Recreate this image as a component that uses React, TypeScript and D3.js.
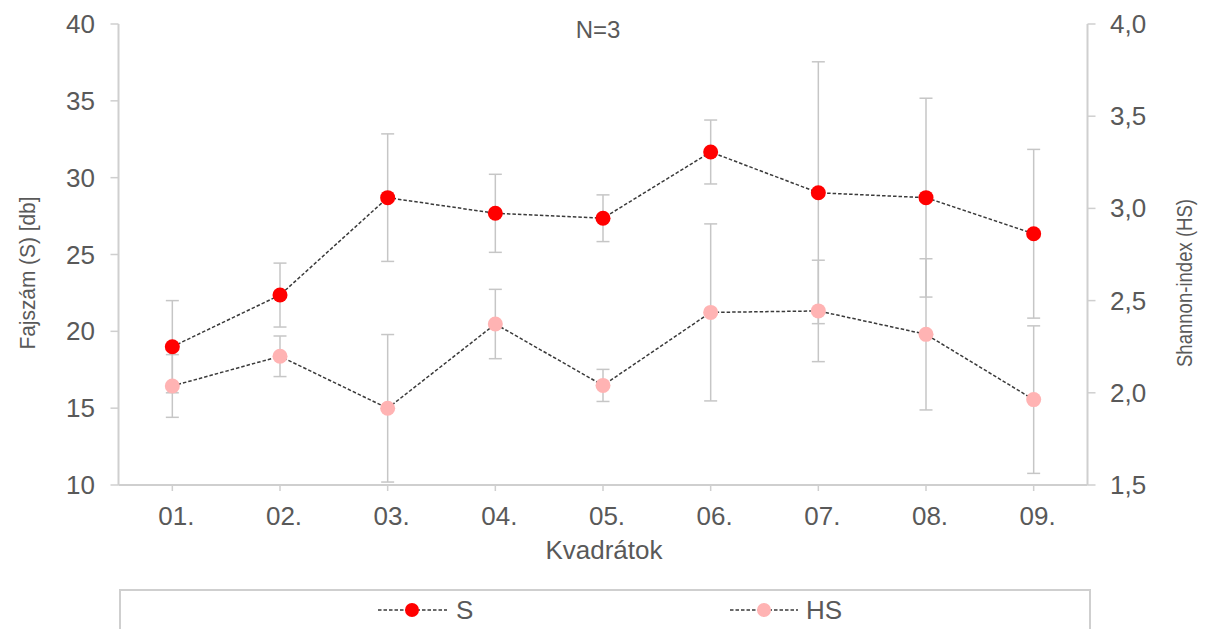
import React from "react";
import * as d3 from "d3";

const categories = ["01.", "02.", "03.", "04.", "05.", "06.", "07.", "08.", "09."];
const sValues = [19.0, 22.36, 28.7, 27.68, 27.36, 31.67, 29.02, 28.7, 26.35];
const sErrors = [3.0, 2.08, 4.15, 2.54, 1.52, 2.08, 8.52, 6.47, 5.49];
const hsValues = [2.037, 2.198, 1.916, 2.373, 2.04, 2.436, 2.444, 2.317, 1.963];
const hsErrors = [0.17, 0.11, 0.4, 0.188, 0.087, 0.48, 0.275, 0.41, 0.4];
const leftTicks = [10, 15, 20, 25, 30, 35, 40];
const rightTicks = [1.5, 2.0, 2.5, 3.0, 3.5, 4.0];

const W = 1207;
const H = 629;
const plot = { left: 118.5, right: 1087.5, top: 24, bottom: 485 };
const axisColor = "#cfcfcf";
const textColor = "#595959";
const errColor = "#c6c6c6";
const lineColor = "#3a3a3a";
const sColor = "#ff0000";
const hsColor = "#ffb3b3";
const font = "'Liberation Sans', Arial, sans-serif";

export default function App() {
  const x = d3.scaleBand<string>().domain(categories).range([plot.left, plot.right]);
  const cx = (c: string) => (x(c) as number) + x.bandwidth() / 2;
  const yL = d3.scaleLinear().domain([10, 40]).range([plot.bottom, plot.top]);
  const yR = d3.scaleLinear().domain([1.5, 4.0]).range([plot.bottom, plot.top]);

  const sLine = d3
    .line<number>()
    .x((_, i) => cx(categories[i]))
    .y((d) => yL(d))(sValues) as string;
  const hsLine = d3
    .line<number>()
    .x((_, i) => cx(categories[i]))
    .y((d) => yR(d))(hsValues) as string;

  const fmtR = (v: number) => d3.format(".1f")(v).replace(".", ",");
  const capHalf = 6.5;

  const errBars = (vals: number[], errs: number[], y: d3.ScaleLinear<number, number>, key: string) =>
    vals.map((v, i) => {
      const xc = cx(categories[i]);
      const y1 = y(v + errs[i]);
      const y2 = y(v - errs[i]);
      return (
        <g key={key + i} stroke={errColor} strokeWidth={1.5}>
          <line x1={xc} x2={xc} y1={y1} y2={y2} />
          <line x1={xc - capHalf} x2={xc + capHalf} y1={y1} y2={y1} />
          <line x1={xc - capHalf} x2={xc + capHalf} y1={y2} y2={y2} />
        </g>
      );
    });

  return (
    <svg
      width={W}
      height={H}
      style={{ position: "absolute", left: 0, top: 0, background: "#fff" }}
      fontFamily={font}
    >
      <rect width={W} height={H} fill="#fff" />
      {/* title */}
      <text x={598} y={38} textAnchor="middle" fontSize={24} fill={textColor}>
        N=3
      </text>

      {/* left axis */}
      <line x1={plot.left} x2={plot.left} y1={plot.top} y2={plot.bottom} stroke={axisColor} strokeWidth={2} />
      {leftTicks.map((t) => (
        <g key={"l" + t}>
          <line x1={plot.left - 8} x2={plot.left} y1={yL(t)} y2={yL(t)} stroke={axisColor} strokeWidth={1.5} />
          <text x={95} y={yL(t) + 9} textAnchor="end" fontSize={26} fill={textColor}>
            {t}
          </text>
        </g>
      ))}

      {/* right axis */}
      <line x1={plot.right} x2={plot.right} y1={plot.top} y2={plot.bottom} stroke={axisColor} strokeWidth={2} />
      {rightTicks.map((t) => (
        <g key={"r" + t}>
          <line x1={plot.right} x2={plot.right + 8} y1={yR(t)} y2={yR(t)} stroke={axisColor} strokeWidth={1.5} />
          <text x={1110} y={yR(t) + 9} textAnchor="start" fontSize={26} fill={textColor}>
            {fmtR(t)}
          </text>
        </g>
      ))}

      {/* x axis */}
      <line x1={plot.left} x2={plot.right} y1={plot.bottom} y2={plot.bottom} stroke={axisColor} strokeWidth={2} />
      {categories.map((c) => (
        <g key={"x" + c}>
          <line x1={cx(c)} x2={cx(c)} y1={plot.bottom} y2={plot.bottom + 6} stroke={axisColor} strokeWidth={1.5} />
          <text x={cx(c) + 4} y={525} textAnchor="middle" fontSize={26} fill={textColor}>
            {c}
          </text>
        </g>
      ))}

      {/* axis titles */}
      <text x={604} y={559} textAnchor="middle" fontSize={26} fill={textColor}>
        Kvadrátok
      </text>
      <text
        transform={`translate(35,273) rotate(-90)`}
        textAnchor="middle"
        fontSize={22}
        fill={textColor}
        textLength={153}
        lengthAdjust="spacingAndGlyphs"
      >
        Fajszám (S) [db]
      </text>
      <text
        transform={`translate(1192,283) rotate(-90)`}
        textAnchor="middle"
        fontSize={22}
        fill={textColor}
        textLength={168}
        lengthAdjust="spacingAndGlyphs"
      >
        Shannon-index (HS)
      </text>

      {/* error bars */}
      {errBars(sValues, sErrors, yL, "se")}
      {errBars(hsValues, hsErrors, yR, "he")}

      {/* S series */}
      <path d={sLine} fill="none" stroke={lineColor} strokeWidth={1.5} strokeDasharray="3.5,2" />
      {sValues.map((v, i) => (
        <circle key={"sp" + i} cx={cx(categories[i])} cy={yL(v)} r={7.5} fill={sColor} />
      ))}

      {/* HS series */}
      <path d={hsLine} fill="none" stroke={lineColor} strokeWidth={1.5} strokeDasharray="3.5,2" />
      {hsValues.map((v, i) => (
        <circle key={"hp" + i} cx={cx(categories[i])} cy={yR(v)} r={7.5} fill={hsColor} />
      ))}

      {/* legend */}
      <rect x={120} y={590} width={970} height={60} fill="none" stroke={axisColor} strokeWidth={2} />
      <line x1={378} x2={447} y1={610} y2={610} stroke={lineColor} strokeWidth={1.5} strokeDasharray="3.5,2" />
      <circle cx={412} cy={610} r={7} fill={sColor} />
      <text x={456} y={619} fontSize={26} fill={textColor}>
        S
      </text>
      <line x1={730} x2={798} y1={610} y2={610} stroke={lineColor} strokeWidth={1.5} strokeDasharray="3.5,2" />
      <circle cx={764} cy={610} r={7} fill={hsColor} />
      <text x={806} y={619} fontSize={26} fill={textColor}>
        HS
      </text>
    </svg>
  );
}
